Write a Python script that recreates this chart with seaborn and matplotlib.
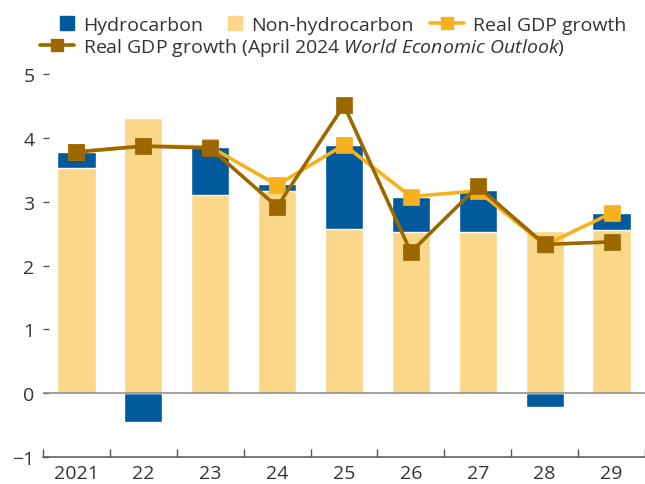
#!/usr/bin/env python3

import seaborn as sns
import matplotlib.pyplot as plt
from matplotlib.lines import Line2D
from matplotlib.patches import Patch
import numpy as np

# data
years = ['2021', '22', '23', '24', '25', '26', '27', '28', '29']
non_hydro = [3.53, 4.31, 3.10, 3.17, 2.57, 2.52, 2.52, 2.54, 2.55]
hydro = [0.25, -0.45, 0.76, 0.11, 1.32, 0.55, 0.66, -0.22, 0.27]
gdp = [3.78, 3.87, 3.86, 3.26, 3.89, 3.08, 3.17, 2.32, 2.82]
gdp_weo = [3.78, 3.87, 3.84, 2.92, 4.51, 2.21, 3.24, 2.33, 2.37]

c_hydro = '#005a9c'
c_non = '#fbd78a'
c_gdp = '#f8b11d'
c_weo = '#9b6800'
c_text = '#333333'
fs = 14

sns.set_style('white')
plt.rcParams['font.family'] = ['Open Sans', 'DejaVu Sans']
plt.rcParams['mathtext.fontset'] = 'custom'
plt.rcParams['mathtext.rm'] = 'Open Sans'
plt.rcParams['mathtext.it'] = 'Open Sans:italic'
plt.rcParams['text.color'] = c_text

fig = plt.figure(figsize=(6.45, 4.85), dpi=100)
ax = fig.add_axes([43 / 645, 1 - 458 / 485, 1 - 43 / 645, (458 - 75) / 485])

# blue drawn to the stack top (or below zero), yellow laid over it
blue_top = [n + h if h > 0 else h for n, h in zip(non_hydro, hydro)]
sns.barplot(x=years, y=blue_top, color=c_hydro, width=0.57,
            saturation=1, ax=ax, zorder=2)
sns.barplot(x=years, y=non_hydro, color=c_non, width=0.57,
            saturation=1, ax=ax, zorder=3)

ax.axhline(0, color='#888888', lw=1.1, zorder=4)

sns.pointplot(x=years, y=gdp, color=c_gdp, markers='s', markersize=10,
              linewidth=2.6, ax=ax, zorder=5)
sns.pointplot(x=years, y=gdp_weo, color=c_weo, markers='s', markersize=10,
              linewidth=2.6, ax=ax, zorder=6)

ax.set_ylim(-1, 5)
ax.set_xlim(-0.5, 8.5)
ax.set_yticks(range(-1, 6))
ax.set_yticklabels(['\u22121', '0', '1', '2', '3', '4', '5'])
ax.set_xticks(np.arange(-0.5, 9, 1), minor=True)
ax.tick_params(which='both', bottom=True, left=True)
ax.tick_params(axis='x', which='major', length=0, labelsize=fs,
               labelcolor=c_text, pad=5)
ax.tick_params(axis='x', which='minor', direction='in', length=6,
               width=1, color='#555555')
ax.tick_params(axis='y', direction='in', length=4, width=1,
               color='#555555', labelsize=fs, labelcolor=c_text, pad=6)
for s in ['left', 'right', 'top']:
    ax.spines[s].set_visible(False)
ax.spines['bottom'].set_color('#555555')
ax.spines['bottom'].set_linewidth(1.1)
ax.set_xlabel('')
ax.set_ylabel('')
ax.grid(False)

# legend: two rows, pieces placed separately
leg_kw = dict(loc='center left', frameon=False, fontsize=fs,
              handletextpad=0.45, borderaxespad=0, borderpad=0)
row1 = 1 - 26 / 485
row2 = 1 - 48 / 485
fig.legend([Patch(color=c_hydro), Patch(color=c_non)],
           ['Hydrocarbon', 'Non-hydrocarbon'], ncol=2,
           bbox_to_anchor=(60 / 645, row1), handlelength=0.72,
           handleheight=0.72, columnspacing=1.3, **leg_kw)
fig.legend([Line2D([], [], color=c_gdp, lw=2.6, marker='s', markersize=8)],
           ['Real GDP growth'], bbox_to_anchor=(430 / 645, row1),
           handlelength=1.75, **leg_kw)
fig.legend([Line2D([], [], color=c_weo, lw=2.6, marker='s', markersize=8)],
           [r'Real GDP growth (April 2024 $\mathit{World\ Economic\ Outlook}$)'],
           bbox_to_anchor=(40 / 645, row2), handlelength=1.75, **leg_kw)

plt.savefig('out.png', dpi=100)
